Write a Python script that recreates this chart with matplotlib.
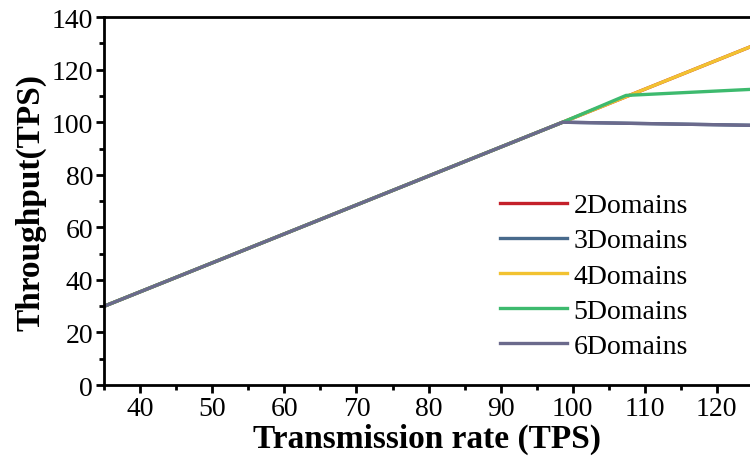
import numpy as np
import matplotlib
matplotlib.use('Agg')
import matplotlib.pyplot as plt
from matplotlib.ticker import MultipleLocator

plt.rcParams['font.family'] = ['Liberation Serif', 'DejaVu Serif']

rate_2 = [35, 98.6, 107.4, 130]
tps_2 = [30, 100, 109.7, 134.6]
rate_3 = [35, 98.6, 130]
tps_3 = [30, 100, 98.6]
rate_4 = [35, 98.6, 107.4, 130]
tps_4 = [30, 100, 109.7, 134.6]
rate_5 = [35, 98.6, 107.4, 130]
tps_5 = [30, 100, 110.2, 113.2]
rate_6 = [35, 98.6, 130]
tps_6 = [30, 100, 98.6]
labels = ['2Domains', '3Domains', '4Domains', '5Domains', '6Domains']
colors = ['#c4202a', '#486a8c', '#f2c231', '#3dba6e', '#6b6a8c']

fig = plt.figure(figsize=(7.5, 4.64), dpi=100)
ax = fig.add_axes([0.139, 0.168, 0.861, 0.793])

series = [(rate_2, tps_2), (rate_3, tps_3), (rate_4, tps_4), (rate_5, tps_5), (rate_6, tps_6)]
for (x, y), lab, c in zip(series, labels, colors):
    ax.plot(x, y, color=c, lw=2.4, label=lab)

ax.set_xlim(35, 124.6)
ax.set_ylim(0, 140)
ax.xaxis.set_major_locator(MultipleLocator(10))
ax.xaxis.set_minor_locator(MultipleLocator(5))
ax.yaxis.set_major_locator(MultipleLocator(20))
ax.yaxis.set_minor_locator(MultipleLocator(10))
ax.spines['right'].set_visible(False)
for s in ['left', 'bottom', 'top']:
    ax.spines[s].set_linewidth(2)
ax.tick_params(which='major', direction='out', length=6, width=2, labelsize=20, pad=2)
ax.tick_params(which='minor', direction='out', length=3.5, width=2)
ax.tick_params(top=False, which='both')

ax.set_xlabel('Transmission rate (TPS)', fontsize=24, fontweight='bold', labelpad=1)
ax.set_ylabel('Throughput(TPS)', fontsize=24, fontweight='bold', labelpad=4)

ax.legend(loc='lower left', bbox_to_anchor=(500 / 750, (464 - 360) / 464), bbox_transform=fig.transFigure,
          frameon=False, fontsize=20, borderpad=0, borderaxespad=0,
          handlelength=2.4, handletextpad=0.25, labelspacing=0.35)

plt.savefig('out.png', dpi=100)
